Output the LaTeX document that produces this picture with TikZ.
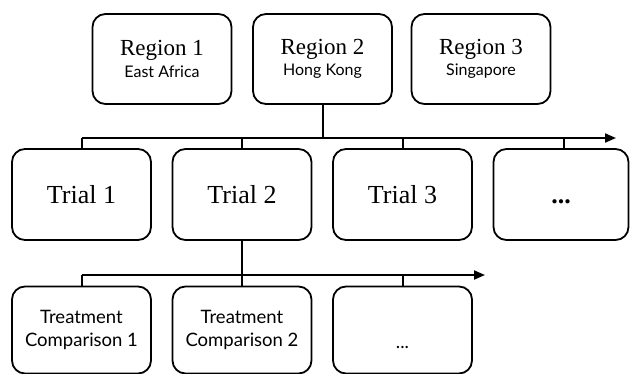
\documentclass[tikz,border=0pt]{standalone}
\usepackage{fontspec}
\setmainfont{Liberation Serif}
\newfontfamily\subfont{Lato}
\usetikzlibrary{arrows.meta}
\begin{document}
\begin{tikzpicture}[x=1pt,y=-1pt,
  box/.style={draw=black, line width=1.8pt, rounded corners=13pt, inner sep=0pt, align=center},
  regionbox/.style={box, minimum width=139pt, minimum height=90pt},
  trialbox/.style={box, minimum width=139pt, minimum height=91pt, font=\fontsize{26}{28}\selectfont},
  compbox/.style={box, minimum width=139pt, minimum height=87pt, font=\subfont\fontsize{18.5}{23}\selectfont},
  conn/.style={line width=2pt},
  arr/.style={conn, -{Triangle[length=11pt,width=9pt]}},
  rtitle/.style={},
]
\useasboundingbox (0,0) rectangle (630,373);
% regions
\node[regionbox] (R1) at (162,59) {{\fontsize{23}{24}\selectfont Region 1}\\[4pt]{\subfont\fontsize{16}{18}\selectfont East Africa}};
\node[regionbox] (R2) at (322.5,59) {{\fontsize{23}{24}\selectfont Region 2}\\[4pt]{\subfont\fontsize{16}{18}\selectfont Hong Kong}};
\node[regionbox] (R3) at (481,59) {{\fontsize{23}{24}\selectfont Region 3}\\[4pt]{\subfont\fontsize{16}{18}\selectfont Singapore}};
% trials
\node[trialbox] (T1) at (81.5,194.5) {Trial 1};
\node[trialbox] (T2) at (242,194.5) {Trial 2};
\node[trialbox] (T3) at (402.5,194.5) {Trial 3};
\node[trialbox, minimum width=135pt] (T4) at (561,194.5) {\vphantom{Tl}\textbf{...}};
% comparisons
\node[compbox] (C1) at (81.5,330) {Treatment\\Comparison 1};
\node[compbox] (C2) at (242,330) {Treatment\\Comparison 2};
\node[compbox] (C3) at (402.5,330) {\vphantom{T}\\...};
% bar 1
\coordinate (bar1) at (82,138);
\coordinate (bar1end) at (616,138);
\draw[conn] (R2.south) -- (R2.south |- bar1);
\draw[arr] (T1.north |- bar1) -- (bar1end);
\draw[conn] (T1.north) -- (T1.north |- bar1);
\draw[conn] (T2.north) -- (T2.north |- bar1);
\draw[conn] (T3.north) -- (T3.north |- bar1);
\draw[conn] ([xshift=3pt]T4.north) -- ([xshift=3pt]T4.north |- bar1);
% bar 2
\coordinate (bar2) at (82,275);
\coordinate (bar2end) at (485,275);
\draw[conn] (T2.south) -- (T2.south |- bar2);
\draw[arr] (C1.north |- bar2) -- (bar2end);
\draw[conn] (C1.north) -- (C1.north |- bar2);
\draw[conn] (C2.north) -- (C2.north |- bar2);
\draw[conn] (C3.north) -- (C3.north |- bar2);
\end{tikzpicture}
\end{document}
